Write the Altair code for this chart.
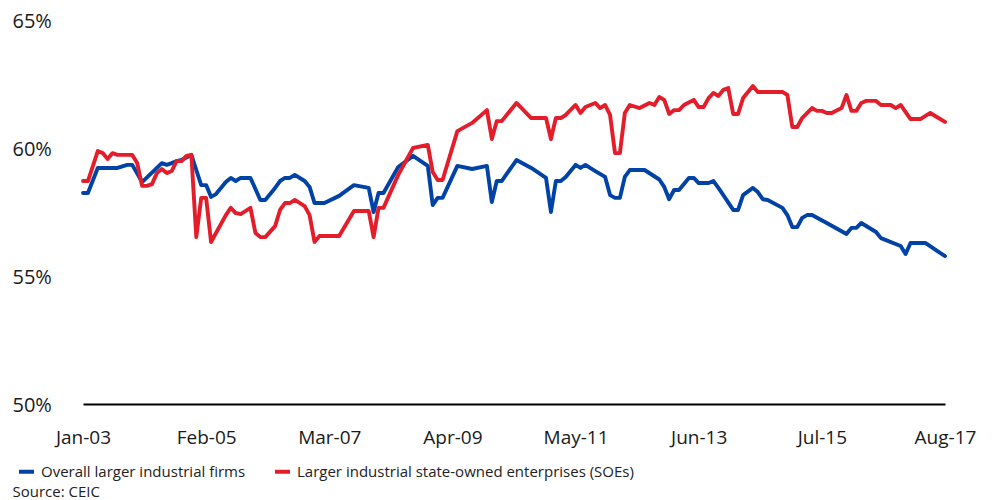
import altair as alt
import pandas as pd

# Month index counted from Jan-2003 (0) to Aug-2017 (175)
blue_months = [0, 1, 3, 7, 9, 10, 12, 16, 17, 18, 19, 20, 22, 23, 24, 25, 26, 27, 29, 30,
               31, 32, 34, 36, 37, 39, 40, 41, 42, 43, 45, 46, 47, 49, 52, 55, 58, 59, 60, 61,
               64, 67, 70, 71, 72, 73, 76, 79, 82, 83, 84, 85, 88, 91, 94, 95, 96, 97, 98, 100,
               101, 102, 104, 106, 107, 108, 109, 110, 111, 114, 117, 118, 119, 120, 121, 123, 124, 125, 127, 128,
               129, 130, 132, 133, 134, 136, 137, 138, 139, 142, 143, 144, 145, 146, 147, 148, 151, 155, 156, 157,
               158, 161, 162, 166, 167, 168, 171, 174, 175]
blue_values = [58.24, 58.24, 59.22, 59.22, 59.34, 59.34, 58.67, 59.41, 59.34, 59.41, 59.49, 59.53, 59.73, 59.14, 58.55, 58.55, 58.09, 58.20, 58.67, 58.83,
               58.71, 58.83, 58.83, 57.97, 57.97, 58.44, 58.71, 58.83, 58.83, 58.95, 58.71, 58.48, 57.85, 57.85, 58.13, 58.55, 58.44, 57.50, 58.24, 58.24,
               59.26, 59.69, 59.30, 57.77, 58.05, 58.05, 59.30, 59.18, 59.30, 57.89, 58.71, 58.71, 59.53, 59.22, 58.83, 57.50, 58.71, 58.71, 58.87, 59.34,
               59.22, 59.34, 59.10, 58.87, 58.16, 58.05, 58.05, 58.87, 59.14, 59.14, 58.77, 58.48, 58.00, 58.36, 58.36, 58.83, 58.83, 58.63, 58.63, 58.71,
               58.44, 58.16, 57.58, 57.58, 58.16, 58.44, 58.28, 58.00, 57.97, 57.66, 57.38, 56.91, 56.91, 57.27, 57.38, 57.38, 57.07, 56.64, 56.88, 56.88,
               57.07, 56.72, 56.48, 56.17, 55.86, 56.29, 56.29, 55.90, 55.78]

red_months = [0, 1, 3, 4, 5, 6, 7, 10, 11, 12, 13, 14, 15, 16, 17, 18, 19, 20, 21, 22,
              23, 24, 25, 26, 27, 29, 30, 31, 32, 34, 35, 36, 37, 39, 40, 41, 42, 43, 45, 46,
              47, 48, 52, 55, 58, 59, 60, 61, 64, 67, 70, 71, 72, 73, 76, 79, 82, 83, 84, 85,
              88, 91, 94, 95, 96, 97, 98, 100, 101, 102, 104, 105, 106, 107, 108, 109, 110, 111, 113, 115,
              116, 117, 118, 119, 120, 121, 122, 124, 125, 126, 127, 128, 129, 130, 131, 132, 133, 134, 136, 137,
              142, 143, 144, 145, 146, 148, 149, 150, 151, 152, 154, 155, 156, 157, 158, 159, 161, 162, 164, 165,
              166, 168, 170, 172, 173, 175]
red_values = [58.71, 58.71, 59.88, 59.80, 59.57, 59.80, 59.73, 59.73, 59.41, 58.52, 58.52, 58.59, 59.02, 59.18, 59.02, 59.10, 59.49, 59.49, 59.69, 59.73,
              56.52, 58.05, 58.05, 56.33, 56.68, 57.38, 57.66, 57.46, 57.42, 57.66, 56.68, 56.52, 56.52, 56.95, 57.58, 57.85, 57.85, 57.97, 57.73, 57.38,
              56.33, 56.56, 56.56, 57.54, 57.54, 56.52, 57.66, 57.66, 58.95, 60.00, 60.12, 59.06, 58.75, 58.75, 60.66, 60.98, 61.48, 60.35, 61.05, 61.05,
              61.76, 61.17, 61.17, 60.35, 61.17, 61.17, 61.29, 61.68, 61.37, 61.60, 61.76, 61.56, 61.68, 61.29, 59.80, 59.80, 61.37, 61.68, 61.56, 61.76,
              61.68, 61.99, 61.88, 61.33, 61.48, 61.48, 61.68, 61.88, 61.60, 61.60, 61.95, 62.15, 62.03, 62.27, 62.34, 61.33, 61.33, 61.95, 62.42, 62.19,
              62.19, 62.07, 60.82, 60.82, 61.17, 61.56, 61.45, 61.45, 61.37, 61.37, 61.56, 62.07, 61.45, 61.45, 61.76, 61.84, 61.84, 61.68, 61.68, 61.56,
              61.68, 61.13, 61.13, 61.37, 61.25, 61.02]

series_names = ["Overall larger industrial firms", "Larger industrial state-owned enterprises (SOEs)"]
series_colors = ["#0042A6", "#E41D2B"]
x_tick_values = [0, 25, 50, 75, 100, 125, 150, 175]
x_tick_labels = ["Jan-03", "Feb-05", "Mar-07", "Apr-09", "May-11", "Jun-13", "Jul-15", "Aug-17"]
y_tick_values = [50, 55, 60, 65]
source_text = "Source: CEIC"

df = pd.concat([
    pd.DataFrame({"month": blue_months, "value": blue_values, "series": series_names[0]}),
    pd.DataFrame({"month": red_months, "value": red_values, "series": series_names[1]}),
])

label_array = "[" + ",".join("'" + s + "'" for s in x_tick_labels) + "]"

chart = alt.Chart(df).mark_line(strokeWidth=3.9, strokeJoin="round", strokeCap="round").encode(
    x=alt.X("month:Q",
            scale=alt.Scale(domain=[0, 175], nice=False, zero=False),
            axis=alt.Axis(values=x_tick_values,
                          labelExpr=label_array + "[round(datum.value / 25)]",
                          grid=False, ticks=False, domain=True,
                          domainColor="#000000", domainWidth=2,
                          labelFontSize=19, labelColor="#1a1a1a",
                          labelBaseline="middle", labelPadding=33,
                          labelFlush=False, labelOverlap=False,
                          title=source_text, titleX=-71, titleY=87,
                          titleAlign="left", titleBaseline="middle",
                          titleFontSize=15, titleFontWeight="normal", titleColor="#222222")),
    y=alt.Y("value:Q",
            scale=alt.Scale(domain=[50, 65], nice=False, zero=False),
            axis=alt.Axis(values=y_tick_values, labelExpr="datum.value + '%'",
                          grid=False, ticks=False, domain=False,
                          labelFontSize=20, labelColor="#1a1a1a", labelOffset=1,
                          labelAlign="left", labelPadding=71, title=None)),
    color=alt.Color("series:N",
                    scale=alt.Scale(domain=series_names, range=series_colors),
                    legend=alt.Legend(orient="none", legendX=-66, legendY=442,
                                      direction="horizontal", title=None,
                                      symbolType="stroke", symbolSize=225, symbolStrokeWidth=4,
                                      labelFontSize=15, labelColor="#222222", labelOffset=5,
                                      columnPadding=21, padding=0, labelLimit=500)),
    order=alt.Order("month:Q"),
).properties(
    width=862, height=384,
    autosize=alt.AutoSizeParams(type="none"),
    padding={"left": 75, "top": 12, "right": 39, "bottom": 96},
).configure(
    font="Open Sans",
).configure_view(stroke=None)

chart.save("out.html", embed_options={"renderer": "svg", "actions": False})
